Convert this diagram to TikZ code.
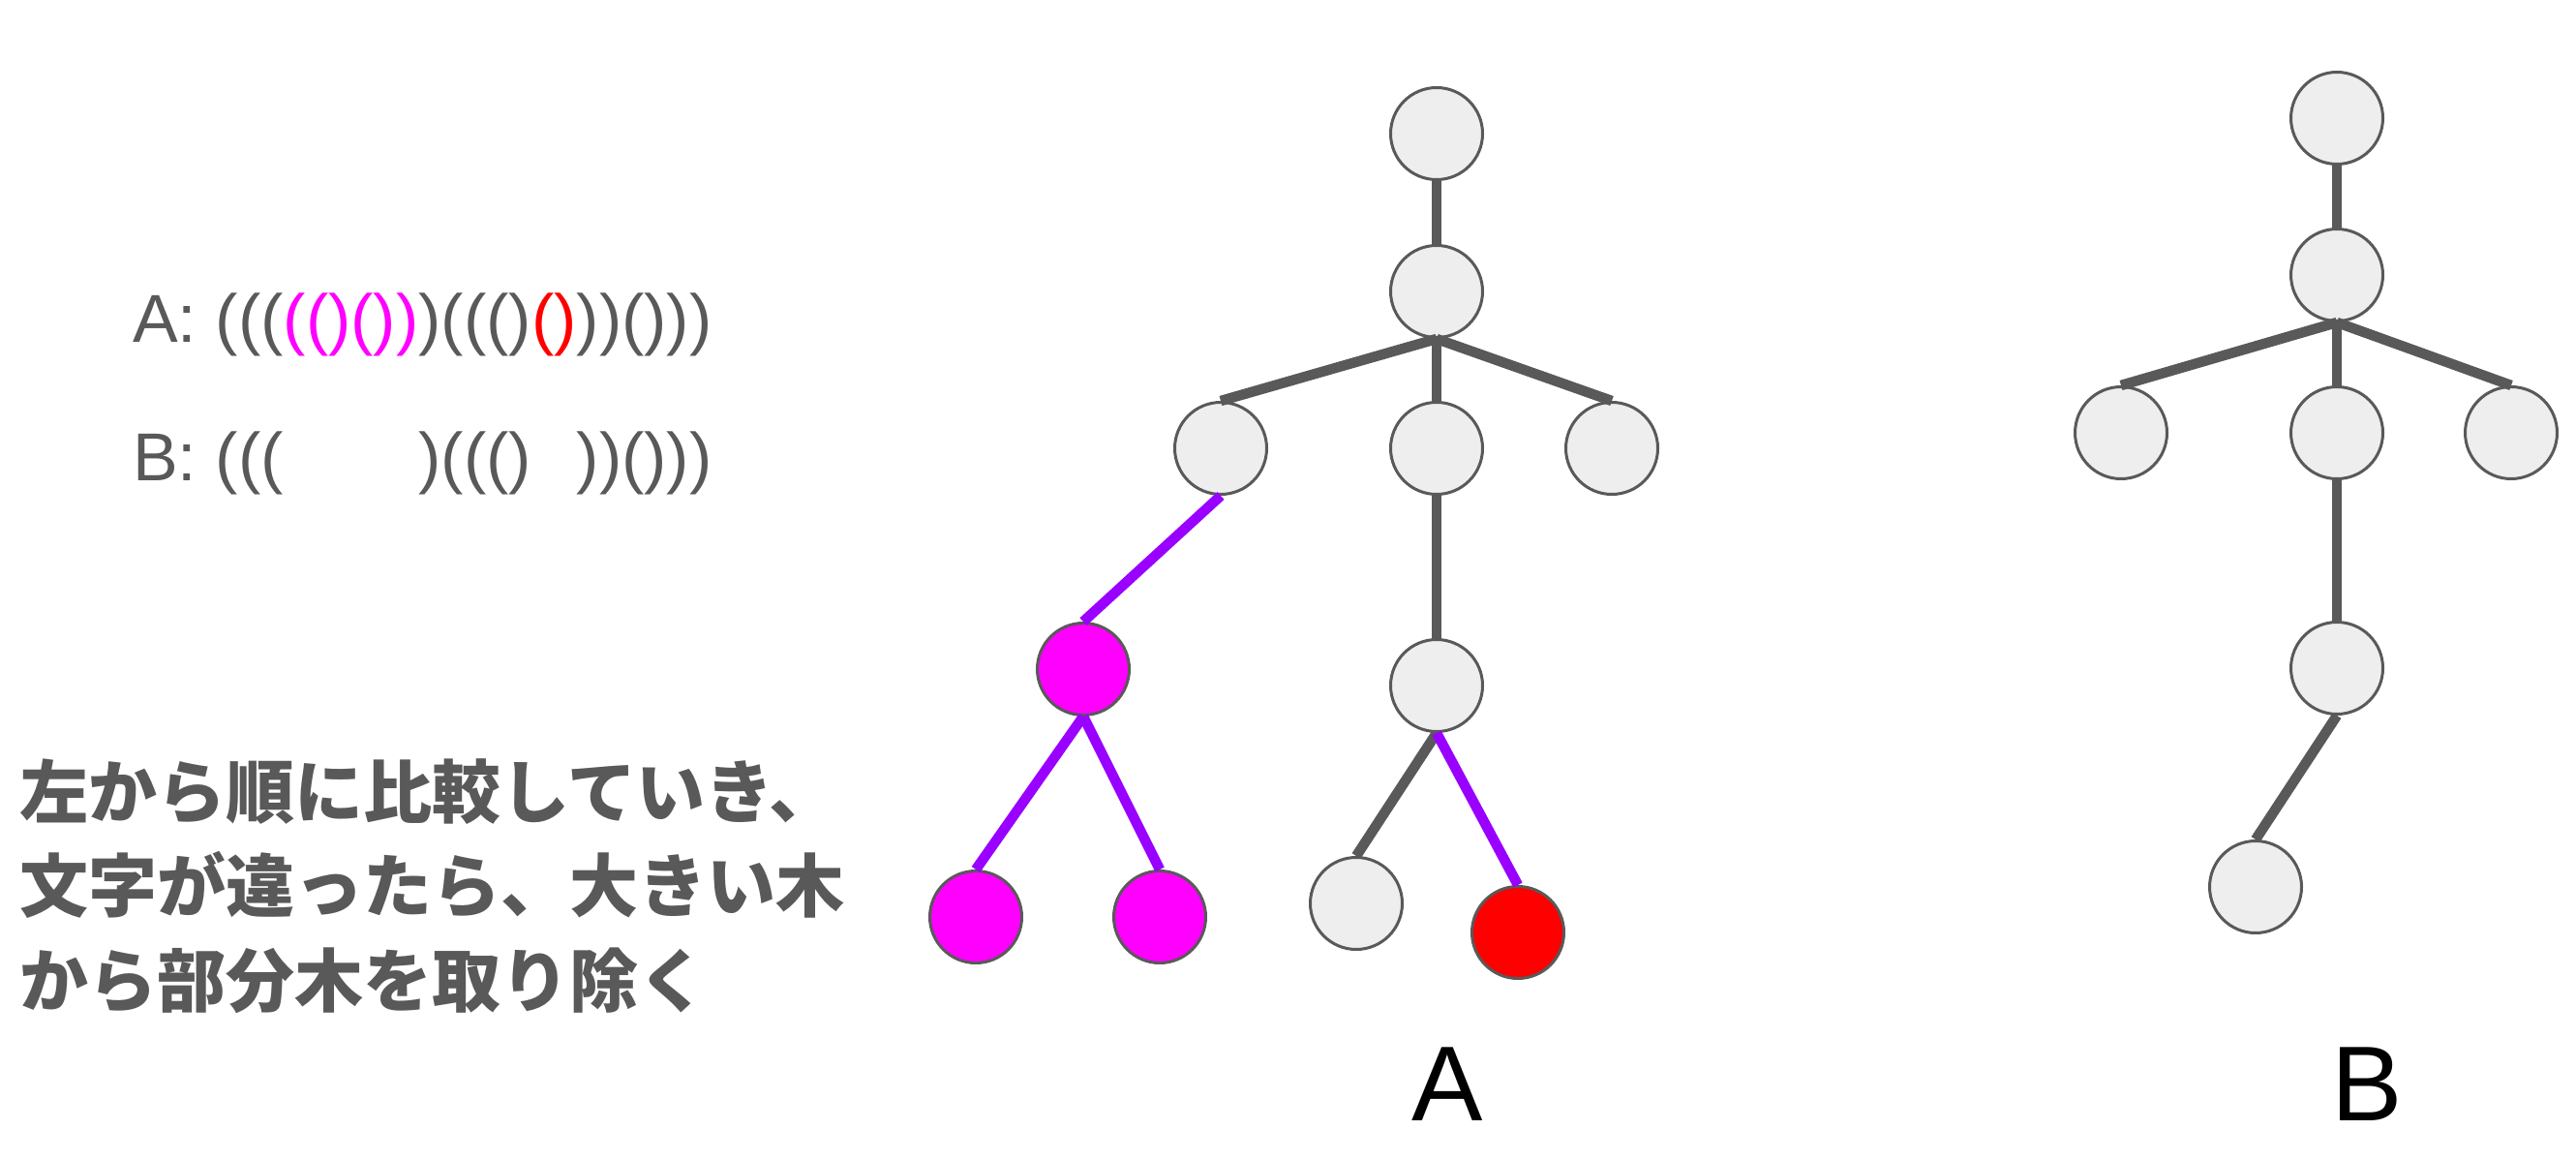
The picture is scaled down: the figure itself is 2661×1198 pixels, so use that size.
\documentclass[tikz,border=0pt]{standalone}
\usepackage{fontspec}
\setmainfont{Liberation Sans}
\newfontfamily\jpfont{Noto Sans CJK JP}

\definecolor{ink}{HTML}{595959}
\definecolor{nodefill}{HTML}{EEEEEE}
\definecolor{cutmag}{HTML}{FF00FF}
\definecolor{cutred}{HTML}{FF0000}
\definecolor{cutpurple}{HTML}{9900FF}

\begin{document}
\begin{tikzpicture}[x=1pt,y=-1pt,
  treenode/.style={circle, draw=ink, line width=3pt, fill=nodefill,
    minimum size=95pt, inner sep=0pt},
  magnode/.style={treenode, fill=cutmag},
  rednode/.style={treenode, fill=cutred},
  edge/.style={draw=ink, line width=10.5pt},
  cutedge/.style={draw=cutpurple, line width=10.5pt},
  seq/.style={anchor=base west, inner sep=0pt, text=ink,
    font=\fontsize{70}{84}\selectfont},
  note/.style={anchor=base west, inner sep=0pt, text=ink,
    font=\jpfont\bfseries\fontsize{71}{98}\selectfont},
  treelabel/.style={anchor=base, inner sep=0pt, text=black,
    font=\fontsize{110}{130}\selectfont}]

\useasboundingbox (0,0) rectangle (2661,1198);

% bracket sequences of both trees
\node[seq] (seqA) at (137,353)
  {A: (((\textcolor{cutmag}{(()())})((()\textcolor{cutred}{()}))()))};
\node[seq] (seqB) at (137,496)
  {B: (((\phantom{(()())})((()\phantom{()}))()))};

% explanation
\node[note] (note1) at (20,844) {左から順に比較していき、};
\node[note] (note2) at (20,941) {文字が違ったら、大きい木};
\node[note] (note3) at (20,1039) {から部分木を取り除く};

% tree A
\node[treenode] (a1)  at (1484,138) {};
\node[treenode] (a2)  at (1484,301) {};
\node[treenode] (a3)  at (1261,463) {};
\node[treenode] (a4)  at (1484,463) {};
\node[treenode] (a5)  at (1665,463) {};
\node[magnode]  (a6)  at (1119,691) {};
\node[magnode]  (a7)  at (1008,947) {};
\node[magnode]  (a8)  at (1198,947) {};
\node[treenode] (a9)  at (1484,708) {};
\node[treenode] (a10) at (1401,933) {};
\node[rednode]  (a11) at (1568,963) {};

\draw[edge] (a1.south) -- (a2.north);
\draw[edge] (a2.south) -- (a3.north);
\draw[edge] (a2.south) -- (a4.north);
\draw[edge] (a2.south) -- (a5.north);
\draw[edge] (a4.south) -- (a9.north);
\draw[edge] (a9.south) -- (a10.north);
\draw[cutedge] (a3.south) -- (a6.north);
\draw[cutedge] (a6.south) -- (a7.north);
\draw[cutedge] (a6.south) -- (a8.north);
\draw[cutedge] (a9.south) -- (a11.north);

% tree B
\node[treenode] (b1) at (2414,122) {};
\node[treenode] (b2) at (2414,284) {};
\node[treenode] (b3) at (2191,447) {};
\node[treenode] (b4) at (2414,447) {};
\node[treenode] (b5) at (2594,447) {};
\node[treenode] (b6) at (2414,690) {};
\node[treenode] (b7) at (2330,916) {};

\draw[edge] (b1.south) -- (b2.north);
\draw[edge] (b2.south) -- (b3.north);
\draw[edge] (b2.south) -- (b4.north);
\draw[edge] (b2.south) -- (b5.north);
\draw[edge] (b4.south) -- (b6.north);
\draw[edge] (b6.south) -- (b7.north);

% tree names
\node[treelabel] (labA) at (1495,1157) {A};
\node[treelabel] (labB) at (2445,1157) {B};

\end{tikzpicture}
\end{document}
